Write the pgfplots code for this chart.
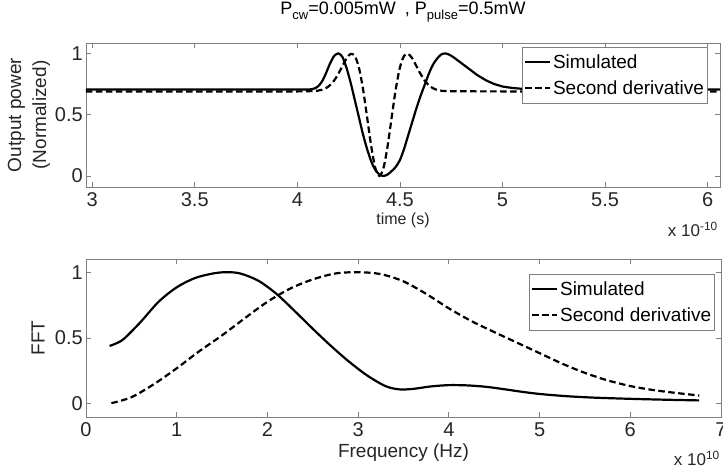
\documentclass[border=0pt]{standalone}
\usepackage{fontspec}
\setmainfont{Liberation Sans}
\usepackage{pgfplots}
\pgfplotsset{compat=1.18}

\definecolor{axgray}{RGB}{128,128,128}

\pgfplotsset{
  mlab/.style={
    scale only axis,
    axis line style={draw=axgray, line width=0.8pt},
    tick style={draw=axgray, line width=0.8pt},
    major tick length=5pt,
    tick align=inside,
    ticklabel style={font=\fontsize{20}{22}\selectfont, text=black!85},
    /pgf/number format/assume math mode=true,
    xticklabel style={anchor=base, yshift=-20pt, inner sep=0pt},
    yticklabel style={anchor=east, inner sep=0pt, xshift=-3pt},
    legend cell align=left,
    legend image code/.code={\draw[##1] (0pt,0pt) -- (25pt,0pt);},
    legend style={draw=axgray, fill=white, line width=0.8pt,
      inner xsep=2pt, inner ysep=5pt, row sep=7pt,
      font=\fontsize{19}{21}\selectfont,
      nodes={inner xsep=1.5pt, inner ysep=2pt},
      anchor=north east},
    every axis plot/.append style={line width=2.2pt, black},
  },
  sim/.style={solid, smooth},
  der/.style={dash pattern=on 6.5pt off 3.5pt, smooth},
}

\begin{document}
\begin{tikzpicture}
\useasboundingbox (0,0) rectangle (723pt,470pt);

\begin{axis}[mlab, name=top,
  at={(86pt,283pt)}, anchor=south west,
  width=634pt, height=144pt,
  xmin=2.97, xmax=6.06, ymin=-0.09, ymax=1.085,
  xtick={3,3.5,4,4.5,5,5.5,6}, ytick={0,0.5,1},
  xlabel={time (s)},
  xlabel style={font=\fontsize{16}{18}\selectfont, text=black!85,
    at={(axis description cs:0.5,0)}, anchor=center, yshift=-33pt},
  ylabel={Output power\\(Normalized)},
  ylabel style={font=\fontsize{19}{25}\selectfont, align=center, text=black!85,
    at={(axis description cs:-0.0899,0.5)}, anchor=center},
  title={P\raisebox{-5pt}{\fontsize{13}{13}\selectfont cw}=0.005mW\hspace{9pt}, P\raisebox{-5pt}{\fontsize{13}{13}\selectfont pulse}=0.5mW},
  title style={at={(axis description cs:0.5,1)}, anchor=base, yshift=22pt,
    font=\fontsize{18}{20}\selectfont},
  legend style={at={(rel axis cs:0.981,0.972)}},
]
\addplot[sim] coordinates {
  (2.97,0.705) (3.5,0.705) (4.0,0.705) (4.06,0.706) (4.08,0.712)
  (4.10,0.73) (4.12,0.77) (4.14,0.84) (4.16,0.92) (4.18,0.98)
  (4.20,1.00) (4.22,0.97) (4.24,0.88) (4.26,0.76) (4.28,0.62)
  (4.30,0.48) (4.32,0.34) (4.34,0.22) (4.36,0.12) (4.38,0.05)
  (4.40,0.012) (4.42,0.0) (4.44,0.012) (4.46,0.04) (4.48,0.075)
  (4.50,0.13) (4.52,0.22) (4.54,0.33) (4.56,0.44) (4.58,0.55)
  (4.60,0.65) (4.62,0.74) (4.64,0.83) (4.66,0.905) (4.68,0.955)
  (4.70,0.99) (4.72,1.00) (4.74,0.99) (4.76,0.97) (4.78,0.945)
  (4.80,0.92) (4.82,0.895) (4.84,0.87) (4.86,0.845) (4.88,0.82)
  (4.90,0.80) (4.92,0.78) (4.94,0.765) (4.96,0.75) (4.98,0.74)
  (5.00,0.73) (5.04,0.72) (5.10,0.711) (5.2,0.706) (5.5,0.705) (6.06,0.705)
};
\addlegendentry{Simulated}
\addplot[der] coordinates {
  (2.97,0.69) (3.5,0.69) (4.0,0.69) (4.06,0.692) (4.10,0.696)
  (4.12,0.703) (4.14,0.717) (4.16,0.742) (4.18,0.780) (4.20,0.834)
  (4.22,0.898) (4.24,0.960) (4.26,0.996) (4.28,0.979) (4.30,0.885)
  (4.32,0.711) (4.34,0.480) (4.36,0.244) (4.38,0.066) (4.40,0.0)
  (4.42,0.066) (4.44,0.244) (4.46,0.480) (4.48,0.711) (4.50,0.885)
  (4.52,0.979) (4.54,0.996) (4.56,0.960) (4.58,0.898) (4.60,0.834)
  (4.62,0.780) (4.64,0.742) (4.66,0.717) (4.68,0.703) (4.70,0.696)
  (4.74,0.692) (5.0,0.69) (6.06,0.69)
};
\addlegendentry{Second derivative}
\end{axis}

\begin{axis}[mlab, name=bot,
  at={(86pt,53pt)}, anchor=south west,
  width=635pt, height=158pt,
  xmin=0, xmax=7, ymin=-0.1, ymax=1.1,
  xtick={0,1,2,3,4,5,6,7}, ytick={0,0.5,1},
  xlabel={Frequency (Hz)},
  xlabel style={font=\fontsize{19}{21}\selectfont, text=black!85,
    at={(axis description cs:0.5,0)}, anchor=base, yshift=-41pt},
  ylabel={FFT},
  ylabel style={font=\fontsize{19}{21}\selectfont, text=black!85,
    at={(axis description cs:-0.0756,0.5)}, anchor=center},
  legend style={at={(rel axis cs:0.9906,0.905)}},
]
\addplot[sim] coordinates {
  (0.26,0.44) (0.33,0.458) (0.42,0.495) (0.6,0.62) (0.8,0.775) (1.0,0.885)
  (1.2,0.955) (1.4,0.99) (1.55,1.0) (1.7,0.99) (1.9,0.935) (2.1,0.835)
  (2.3,0.705) (2.5,0.57) (2.7,0.44) (2.9,0.32) (3.1,0.215) (3.3,0.135)
  (3.45,0.11) (3.6,0.113) (3.8,0.132) (4.0,0.142) (4.2,0.14) (4.4,0.13)
  (4.6,0.112) (4.8,0.092) (5.0,0.075) (5.3,0.058) (5.6,0.047) (6.0,0.038)
  (6.4,0.031) (6.76,0.026)
};
\addlegendentry{Simulated}
\addplot[der] coordinates {
  (0.28,0.005) (0.5,0.05) (0.75,0.15) (1.0,0.27) (1.25,0.40) (1.5,0.52)
  (1.75,0.65) (2.0,0.775) (2.25,0.875) (2.5,0.945) (2.75,0.99) (3.0,1.0)
  (3.25,0.985) (3.5,0.93) (3.75,0.835) (4.0,0.725) (4.25,0.628) (4.5,0.545)
  (4.75,0.465) (5.0,0.385) (5.25,0.305) (5.5,0.235) (5.75,0.178) (6.0,0.135)
  (6.25,0.105) (6.5,0.083) (6.76,0.063)
};
\addlegendentry{Second derivative}
\end{axis}

\node[anchor=base east, font=\fontsize{17}{19}\selectfont, text=black!85, inner sep=0pt]
  at ([xshift=-2pt,yshift=-50pt]top.south east) {x 10\textsuperscript{-10}};
\node[anchor=base east, font=\fontsize{17}{19}\selectfont, text=black!85, inner sep=0pt]
  at ([xshift=-1pt,yshift=-49pt]bot.south east) {x 10\textsuperscript{10}};
\end{tikzpicture}
\end{document}
